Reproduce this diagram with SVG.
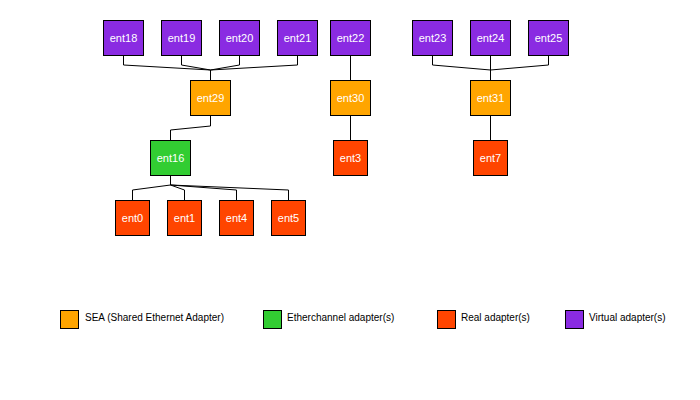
<svg xmlns="http://www.w3.org/2000/svg" width="700" height="400" viewBox="0 0 700 400">
<style>
.n rect{stroke:#000;stroke-width:1}
.n text{fill:#fff;font-family:"Liberation Sans",Arial,sans-serif;font-size:11px;text-anchor:middle;dominant-baseline:central}
.v rect{fill:#8a2be2}
.s rect{fill:#ffa500}
.e rect{fill:#32cd32}
.r rect{fill:#ff4500}
#edges path{fill:none;stroke:#000;stroke-width:1}
.lg rect{stroke:#000;stroke-width:1}
.lg text{fill:#000;font-family:"Liberation Sans",Arial,sans-serif;font-size:10px;dominant-baseline:central}
</style>
<rect width="700" height="400" fill="#fff"/>
<g id="edges">
<path d="M123.5,55V65L210.5,70V80"/>
<path d="M181.5,55V65L210.5,70"/>
<path d="M239.5,55V65L210.5,70"/>
<path d="M297.5,55V65L210.5,70"/>
<path d="M210.5,115V126L170.5,130V140"/>
<path d="M170.5,175V185L132.5,190V200"/>
<path d="M170.5,185L184.5,190V200"/>
<path d="M170.5,185L236.5,190V200"/>
<path d="M170.5,185L288.5,190V200"/>
<path d="M350.5,55V80"/>
<path d="M350.5,115V140"/>
<path d="M432.5,55V65L490.5,70V80"/>
<path d="M490.5,55V80"/>
<path d="M548.5,55V65L490.5,70"/>
<path d="M490.5,115V140"/>
</g>
<g id="ent18" class="n v"><rect x="103.5" y="20.5" width="40" height="35"/><text x="123.5" y="38">ent18</text></g>
<g id="ent19" class="n v"><rect x="161.5" y="20.5" width="40" height="35"/><text x="181.5" y="38">ent19</text></g>
<g id="ent20" class="n v"><rect x="219.5" y="20.5" width="40" height="35"/><text x="239.5" y="38">ent20</text></g>
<g id="ent21" class="n v"><rect x="277.5" y="20.5" width="40" height="35"/><text x="297.5" y="38">ent21</text></g>
<g id="ent22" class="n v"><rect x="330.5" y="20.5" width="40" height="35"/><text x="350.5" y="38">ent22</text></g>
<g id="ent23" class="n v"><rect x="412.5" y="20.5" width="40" height="35"/><text x="432.5" y="38">ent23</text></g>
<g id="ent24" class="n v"><rect x="470.5" y="20.5" width="40" height="35"/><text x="490.5" y="38">ent24</text></g>
<g id="ent25" class="n v"><rect x="528.5" y="20.5" width="40" height="35"/><text x="548.5" y="38">ent25</text></g>
<g id="ent29" class="n s"><rect x="190.5" y="80.5" width="40" height="35"/><text x="210.5" y="98">ent29</text></g>
<g id="ent30" class="n s"><rect x="330.5" y="80.5" width="40" height="35"/><text x="350.5" y="98">ent30</text></g>
<g id="ent31" class="n s"><rect x="470.5" y="80.5" width="40" height="35"/><text x="490.5" y="98">ent31</text></g>
<g id="ent16" class="n e"><rect x="150.5" y="140.5" width="40" height="35"/><text x="170.5" y="158">ent16</text></g>
<g id="ent3" class="n r"><rect x="333.5" y="140.5" width="34" height="35"/><text x="350.5" y="158">ent3</text></g>
<g id="ent7" class="n r"><rect x="473.5" y="140.5" width="34" height="35"/><text x="490.5" y="158">ent7</text></g>
<g id="ent0" class="n r"><rect x="115.5" y="200.5" width="34" height="35"/><text x="132.5" y="218">ent0</text></g>
<g id="ent1" class="n r"><rect x="167.5" y="200.5" width="34" height="35"/><text x="184.5" y="218">ent1</text></g>
<g id="ent4" class="n r"><rect x="219.5" y="200.5" width="34" height="35"/><text x="236.5" y="218">ent4</text></g>
<g id="ent5" class="n r"><rect x="271.5" y="200.5" width="34" height="35"/><text x="288.5" y="218">ent5</text></g>
<g id="legend" class="lg">
<rect x="60.5" y="310.5" width="18" height="18" fill="#ffa500"/><text x="85" y="317">SEA (Shared Ethernet Adapter)</text>
<rect x="263.5" y="310.5" width="18" height="18" fill="#32cd32"/><text x="287" y="317">Etherchannel adapter(s)</text>
<rect x="437.5" y="310.5" width="18" height="18" fill="#ff4500"/><text x="461" y="317">Real adapter(s)</text>
<rect x="565.5" y="310.5" width="18" height="18" fill="#8a2be2"/><text x="589" y="317">Virtual adapter(s)</text>
</g>
</svg>
